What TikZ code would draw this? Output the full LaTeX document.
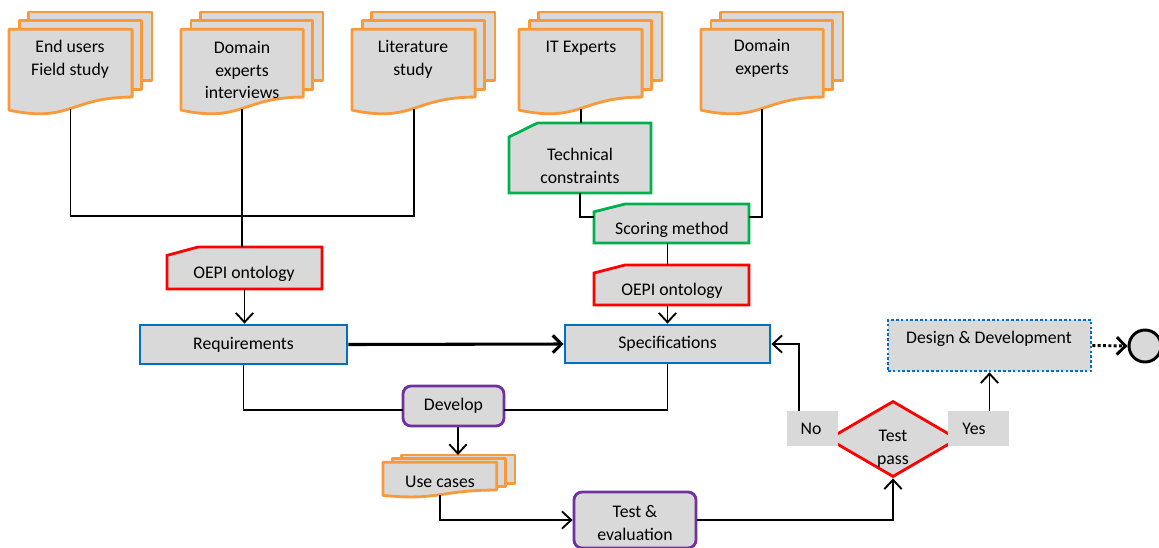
\documentclass[tikz,border=0pt]{standalone}
\usepackage{fontspec}
\setmainfont{Carlito}
\usetikzlibrary{arrows.meta,shapes.geometric,fit,calc}

\definecolor{pagefill}{HTML}{D9D9D9}
\definecolor{docorange}{HTML}{F9993A}
\definecolor{cardgreen}{HTML}{00B050}
\definecolor{ontored}{HTML}{FF0000}
\definecolor{procblue}{HTML}{0070C0}
\definecolor{actpurple}{HTML}{7030A0}

\tikzset{
  page/.style={fill=pagefill, draw=docorange, line width=2.1pt, line join=round},
  cardshape/.style={fill=pagefill, line width=2.1pt},
  proc/.style={rectangle, fill=pagefill, draw=procblue, line width=2.1pt, inner sep=0},
  act/.style={rectangle, fill=pagefill, draw=actpurple, line width=2.1pt, rounded corners=6pt, inner sep=0},
  tagbox/.style={fill=pagefill, inner sep=0},
  txt/.style={align=center, inner sep=0},
  hook/.style={inner sep=0},
  conn/.style={line width=1.4pt, draw=black},
  arr/.style={conn, -{Straight Barb[length=7pt,width=13pt]}},
  thickarr/.style={line width=2.3pt, -{Straight Barb[length=6.5pt,width=13pt]}},
  dotarr/.style={line width=2.2pt, dash pattern=on 2.2pt off 1.8pt,
                 -{Straight Barb[length=6.5pt,width=13pt]}},
  sized/.style 2 args={minimum width=#1*0.75pt, minimum height=#2*0.75pt},
}

% stack of three document pages inside the box (L,T)-(R,B); #1 names the front page
\newcommand\multidoc[5]{%
  \pgfmathsetmacro\mdL{#2}\pgfmathsetmacro\mdT{#3}%
  \pgfmathsetmacro\mdW{#4-#2}\pgfmathsetmacro\mdH{#5-#3}%
  \filldraw[page] ({\mdL+0.1376*\mdW},\mdT) rectangle ({\mdL+\mdW},{\mdT+0.67*\mdH});
  \filldraw[page] ({\mdL+0.0709*\mdW},{\mdT+0.084*\mdH}) rectangle ({\mdL+0.926*\mdW},{\mdT+0.757*\mdH});
  \filldraw[page] (\mdL,{\mdT+0.17*\mdH}) -- ({\mdL+0.861*\mdW},{\mdT+0.17*\mdH})
     -- ({\mdL+0.861*\mdW},{\mdT+0.834*\mdH})
     .. controls ({\mdL+0.43*\mdW},{\mdT+0.834*\mdH}) and ({\mdL+0.43*\mdW},{\mdT+1.09*\mdH})
     .. (\mdL,{\mdT+0.962*\mdH}) -- cycle;
  \node[hook, fit={(\mdL,{\mdT+0.17*\mdH}) ({\mdL+0.861*\mdW},{\mdT+0.946*\mdH})}] (#1) {};
}

% punched card with the upper left corner cut off
\newcommand\punchcard[6]{%
  \filldraw[cardshape, draw=#6] (#2,{#3+0.2*(#5-#3)}) -- ({#2+0.2*(#4-#2)},#3)
     -- (#4,#3) -- (#4,#5) -- (#2,#5) -- cycle;
  \node[hook, fit={(#2,#3) (#4,#5)}] (#1) {};
}

\begin{document}
\begin{tikzpicture}[x=0.75pt, y=-0.75pt, font=\fontsize{13.3}{17}\selectfont]
\useasboundingbox (0,0) rectangle (1159,547);

% source documents
\multidoc{eu}{9}{12}{152}{114}
\multidoc{dei}{181}{12}{323}{114}
\multidoc{lit}{352}{12}{495}{114}
\multidoc{itx}{519}{12}{662}{114}
\multidoc{dex}{701}{12}{843}{114}
\multidoc{uc}{383}{455}{515}{497}

\node[txt] (eu-t)  at (70,59)  {End users\\Field study};
\node[txt] (dei-t) at (242,70) {Domain\\experts\\interviews};
\node[txt] (lit-t) at (413,59) {Literature\\study};
\node[txt] (itx-t) at (581,48) {IT Experts};
\node[txt] (dex-t) at (762,58) {Domain\\experts};
\node[txt] (uc-t)  at (440,482) {Use cases};

% cards
\punchcard{tech}{509}{123}{651}{193}{cardgreen}
\punchcard{score}{594}{204}{749}{243}{cardgreen}
\punchcard{onto1}{167}{247}{322}{289}{ontored}
\punchcard{onto2}{594}{265}{749}{305}{ontored}

\node[txt] (tech-t)  at (580,166) {Technical\\constraints};
\node[txt] (score-t) at (672,230) {Scoring method};
\node[txt] (onto1-t) at (244,274) {OEPI ontology};
\node[txt] (onto2-t) at (672,291) {OEPI ontology};

% process boxes
\node[proc, sized={207}{39}] (req) at (243.5,344.5) {Requirements};
\node[proc, sized={205}{38}] (spec) at (667.5,344) {Specifications};
\node[act, sized={101}{40}] (dev) at (453.5,406) {Develop};
\node[act, sized={122}{56}] (teval) at (635,520) {};
\node[txt] (teval-t) at (635,523) {Test \&\\evaluation};

% decision
\node[diamond, draw=ontored, fill=pagefill, line width=2.1pt, inner sep=0,
      minimum width=130*0.75pt, minimum height=76*0.75pt] (tp) at (893,439) {};
\node[txt] (tp-t) at (893,449) {Test\\pass};
\node[tagbox, sized={51}{35}] (no) at (812.5,428.5) {};
\node[txt] (no-t) at (811,429) {No};
\node[tagbox, sized={61}{35}] (yes) at (978.5,428.5) {};
\node[txt] (yes-t) at (974,429) {Yes};

% outcome
\node[rectangle, sized={203}{51}, fill=pagefill, draw=procblue, line width=2pt,
      dash pattern=on 2pt off 1.6pt, inner sep=0] (design) at (989.5,345.5) {};
\node[txt] (design-t) at (989,339) {Design \& Development};
\node[circle, draw, fill=pagefill, line width=2.2pt, inner sep=0,
      minimum size=32*0.75pt] (end) at (1145,346) {};

% connectors
\coordinate (j1) at (242,216);
\draw[conn] (eu.south) |- (j1);
\draw[conn] (lit.south) |- (j1);
\draw[conn] (dei.south) -- (dei.south |- onto1.north);
\draw[arr] (onto1.south) -- (onto1.south |- req.north);
\draw[thickarr] (req.east) -- (spec.west);

\coordinate (scoreL) at (594,217);
\coordinate (scoreR) at (749,217);
\draw[conn] (itx.south) -- (itx.south |- tech.north);
\draw[conn] (tech.south) |- (scoreL);
\draw[conn] (dex.south) |- (scoreR);
\draw[conn] (spec.north |- score.south) -- (spec.north |- onto2.north);
\draw[arr] (spec.north |- onto2.south) -- (spec.north);

\coordinate (devIn) at (403,410);
\coordinate (devOut) at (504,410);
\draw[conn] (req.south) |- (devIn);
\draw[conn] (devOut) -| (spec.south);
\coordinate (ucTop) at (458,455);
\draw[arr] (dev.south -| ucTop) -- (ucTop);
\draw[arr] (uc.south) |- (teval.west);
\draw[arr] (teval.east) -| (tp.south);

\coordinate (noTop) at (799,411);
\draw[arr] (noTop) |- (spec.east);
\draw[arr] (design.south |- yes.north) -- (design.south);
\draw[dotarr] (design.east) -- (end.west);
\end{tikzpicture}
\end{document}
